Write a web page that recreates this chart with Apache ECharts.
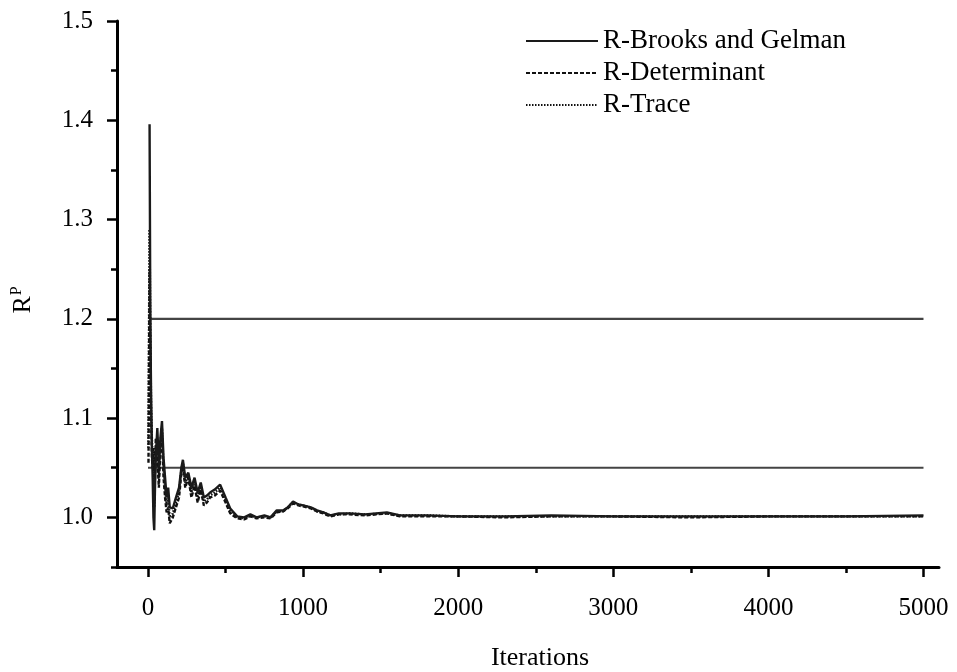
<!DOCTYPE html>
<html>
<head>
<meta charset="utf-8">
<script src="https://cdn.jsdelivr.net/npm/echarts@6/dist/echarts.min.js"></script>
<style>html,body{margin:0;padding:0;background:#fff}#c{width:957px;height:672px}</style>
</head>
<body>
<div id="c"></div>
<script>
const seriesNames = ['R-Brooks and Gelman', 'R-Determinant', 'R-Trace'];
const xTickMajor = [0, 1000, 2000, 3000, 4000, 5000];
const xTickMinor = [500, 1500, 2500, 3500, 4500];
const yTickMajor = [1.0, 1.1, 1.2, 1.3, 1.4, 1.5];
const yTickMinor = [0.95, 1.05, 1.15, 1.25, 1.35, 1.45];
const thresholdHigh = [[20, 1.2], [5000, 1.2]];
const thresholdLow = [[0, 1.05], [5000, 1.05]];

const brooksGelman = [[10,1.396],[15,1.20],[20,1.12],[25,1.07],[30,1.04],[35,1.00],[40,0.987],[45,1.03],[50,1.06],[60,1.09],[70,1.05],[80,1.08],[90,1.097],[100,1.06],[110,1.04],[120,1.02],[130,1.03],[140,1.01],[160,1.009],[180,1.02],[200,1.03],[215,1.05],[225,1.058],[240,1.04],[260,1.045],[280,1.03],[300,1.04],[320,1.025],[340,1.035],[360,1.02],[380,1.022],[400,1.025],[430,1.028],[465,1.033],[500,1.02],[530,1.009],[575,1.001],[620,1.0],[660,1.003],[700,1.0],[750,1.002],[790,1.0],[830,1.007],[870,1.007],[900,1.01],[935,1.016],[970,1.013],[1000,1.012],[1050,1.01],[1090,1.007],[1130,1.005],[1175,1.002],[1230,1.004],[1300,1.004],[1400,1.003],[1540,1.005],[1625,1.002],[1800,1.002],[2000,1.001],[2300,1.001],[2600,1.002],[3000,1.001],[3500,1.001],[4000,1.001],[4500,1.001],[5000,1.002]];

const determinant = [[3,1.055],[10,1.25],[15,1.17],[20,1.10],[25,1.06],[30,1.05],[35,1.07],[40,1.02],[45,1.04],[50,1.08],[60,1.06],[70,1.03],[80,1.07],[90,1.085],[100,1.04],[110,1.02],[120,1.005],[130,1.01],[140,0.994],[160,1.0],[180,1.01],[200,1.02],[215,1.045],[225,1.052],[240,1.03],[260,1.04],[280,1.02],[300,1.032],[320,1.015],[340,1.028],[360,1.012],[380,1.015],[400,1.02],[430,1.022],[465,1.027],[500,1.015],[530,1.004],[575,0.999],[620,0.998],[660,1.001],[700,0.999],[750,1.0],[790,0.999],[830,1.005],[870,1.006],[900,1.009],[935,1.014],[970,1.012],[1000,1.011],[1050,1.009],[1090,1.006],[1130,1.004],[1175,1.001],[1230,1.003],[1300,1.003],[1400,1.002],[1540,1.004],[1625,1.001],[1800,1.001],[2000,1.001],[2300,1.0],[2600,1.001],[3000,1.001],[3500,1.0],[4000,1.001],[4500,1.001],[5000,1.001]];

const trace = [[2,1.07],[10,1.29],[15,1.18],[20,1.11],[25,1.08],[30,1.055],[35,1.06],[40,1.01],[45,1.05],[50,1.07],[60,1.075],[70,1.04],[80,1.075],[90,1.09],[100,1.05],[110,1.03],[120,1.012],[130,1.02],[140,1.0],[160,1.004],[180,1.015],[200,1.025],[215,1.048],[225,1.055],[240,1.035],[260,1.042],[280,1.025],[300,1.036],[320,1.02],[340,1.031],[360,1.016],[380,1.018],[400,1.022],[430,1.025],[465,1.03],[500,1.017],[530,1.006],[575,1.0],[620,0.999],[660,1.002],[700,1.0],[750,1.001],[790,1.0],[830,1.006],[870,1.006],[900,1.01],[935,1.015],[970,1.013],[1000,1.012],[1050,1.01],[1090,1.006],[1130,1.005],[1175,1.002],[1230,1.003],[1300,1.004],[1400,1.003],[1540,1.004],[1625,1.002],[1800,1.002],[2000,1.001],[2300,1.001],[2600,1.001],[3000,1.001],[3500,1.001],[4000,1.001],[4500,1.001],[5000,1.001]];

const font = 'Liberation Serif';
const chart = echarts.init(document.getElementById('c'), null, {renderer: 'canvas'});
const axisLineStyle = {color: '#000', width: 3};
chart.setOption({
  animation: false,
  backgroundColor: '#fff',
  grid: {left: 117, right: 18, top: 21, bottom: 105, containLabel: false, outerBoundsMode: 'none'},
  legend: {
    orient: 'vertical', left: 525, top: 27, padding: 0,
    itemWidth: 72, itemHeight: 14, itemGap: 4,
    itemStyle: {opacity: 0},
    data: seriesNames,
    textStyle: {fontFamily: font, fontSize: 27, color: '#000', lineHeight: 28}
  },
  xAxis: [{
    type: 'value', min: -200, max: 5100,
    axisLine: {show: true, onZero: false, lineStyle: axisLineStyle},
    axisTick: {show: true, inside: false, length: 10, customValues: xTickMajor, lineStyle: {color: '#000', width: 2.5}},
    axisLabel: {customValues: xTickMajor, margin: 29, fontFamily: font, fontSize: 25, color: '#000',
      formatter: v => String(v)},
    splitLine: {show: false},
    name: 'Iterations', nameLocation: 'middle', nameGap: 78,
    nameTextStyle: {fontFamily: font, fontSize: 26, color: '#000', padding: [0, 0, 0, 24]}
  }, {
    type: 'value', min: -200, max: 5100, position: 'bottom',
    axisLine: {show: false, onZero: false},
    axisTick: {show: true, inside: false, length: 6, customValues: xTickMinor, lineStyle: {color: '#000', width: 2.5}},
    axisLabel: {show: false, customValues: xTickMinor},
    splitLine: {show: false}
  }],
  yAxis: [{
    type: 'value', min: 0.95, max: 1.5,
    axisLine: {show: true, onZero: false, lineStyle: axisLineStyle},
    axisTick: {show: true, inside: false, length: 10, customValues: yTickMajor, lineStyle: {color: '#000', width: 2.5}},
    axisLabel: {customValues: yTickMajor, margin: 24, fontFamily: font, fontSize: 25, color: '#000',
      formatter: v => v.toFixed(1)},
    splitLine: {show: false},
    name: '{a|R}{b|P}', nameLocation: 'middle', nameGap: 79, nameRotate: 90,
    nameTextStyle: {fontFamily: font, fontSize: 26, color: '#000', padding: [0, 12, 0, 0],
      rich: {a: {fontFamily: font, fontSize: 26, color: '#000'},
             b: {fontFamily: font, fontSize: 16, color: '#000', padding: [0, 0, 13, 1]}}}
  }, {
    type: 'value', min: 0.95, max: 1.5, position: 'left',
    axisLine: {show: false, onZero: false},
    axisTick: {show: true, inside: false, length: 6, customValues: yTickMinor, lineStyle: {color: '#000', width: 2.5}},
    axisLabel: {show: false, customValues: yTickMinor},
    splitLine: {show: false}
  }],
  series: [
    {name: 'threshold-high', type: 'line', data: thresholdHigh, symbol: 'none', silent: true,
      lineStyle: {color: '#444', width: 2.2}, z: 1},
    {name: 'threshold-low', type: 'line', data: thresholdLow, symbol: 'none', silent: true,
      lineStyle: {color: '#444', width: 2.2}, z: 1},
    {name: seriesNames[2], type: 'line', data: trace, symbol: 'none',
      lineStyle: {color: '#111', width: 2.4, type: [1.5, 1.5]}, itemStyle: {color: '#111'}, z: 2},
    {name: seriesNames[1], type: 'line', data: determinant, symbol: 'none',
      lineStyle: {color: '#111', width: 2.4, type: [4, 2]}, itemStyle: {color: '#111'}, z: 3},
    {name: seriesNames[0], type: 'line', data: brooksGelman, symbol: 'none',
      lineStyle: {color: '#1a1a1a', width: 2.4}, itemStyle: {color: '#1a1a1a'}, z: 4}
  ]
});
</script>
</body>
</html>
